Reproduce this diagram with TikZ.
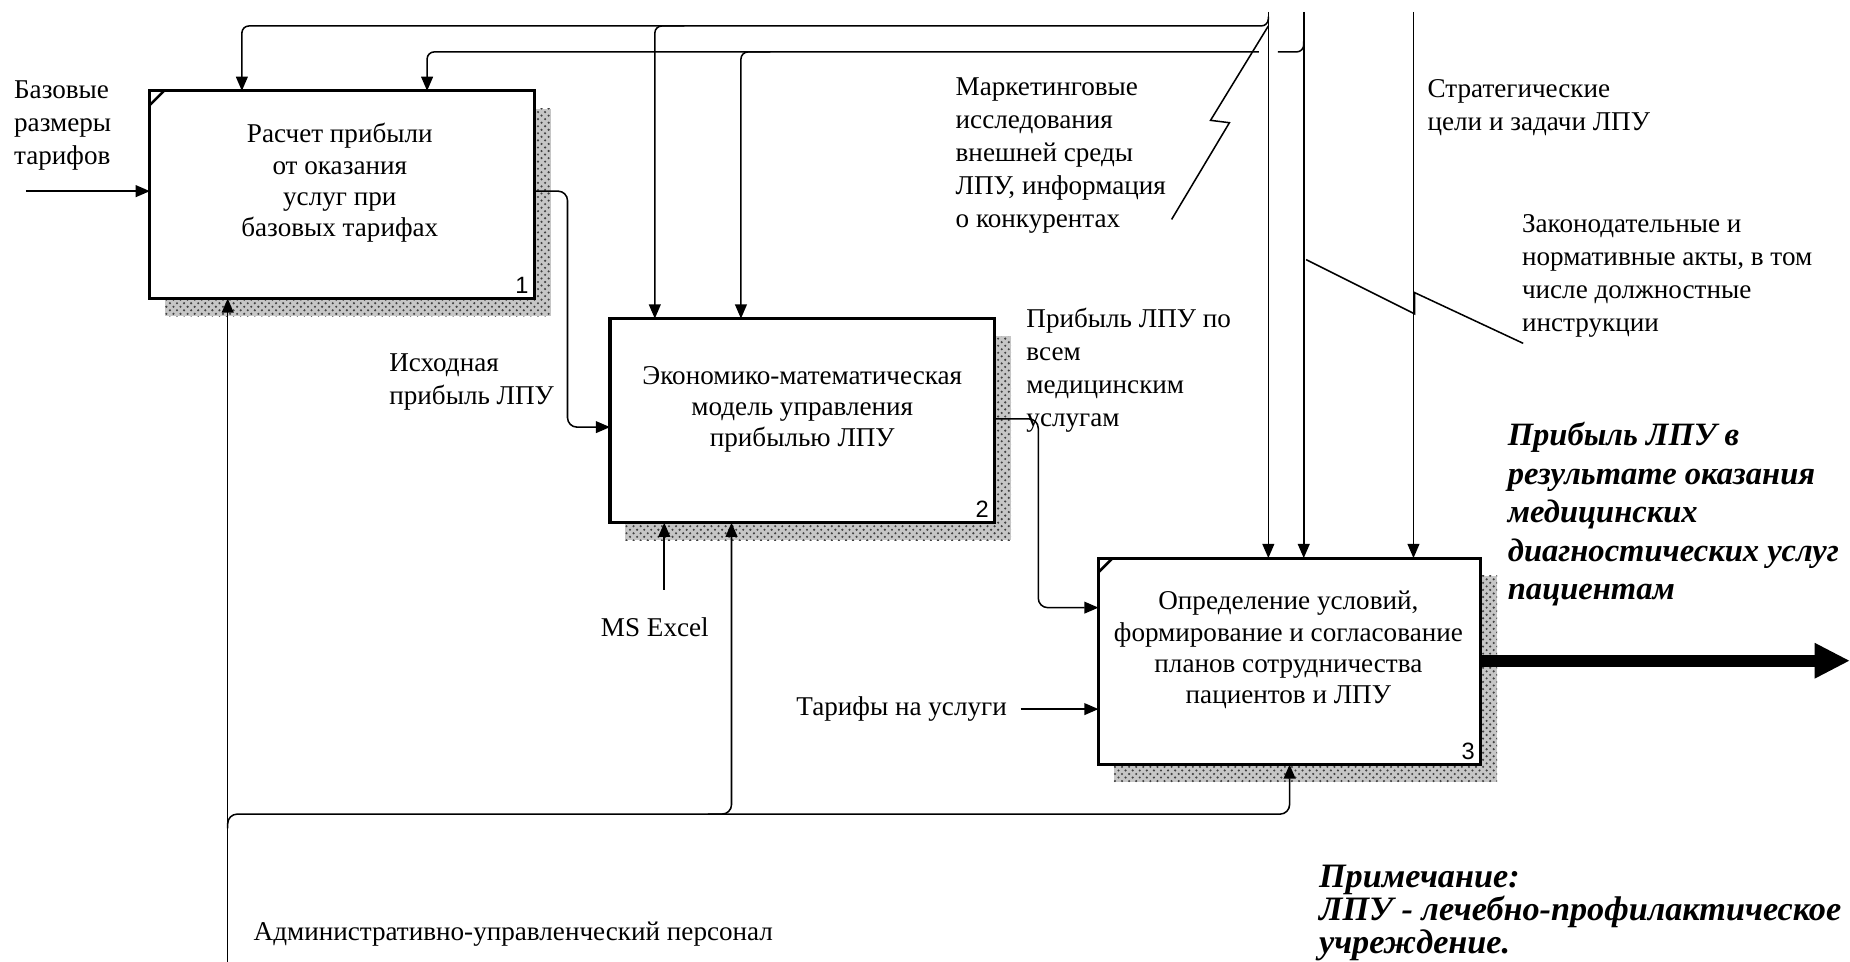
\documentclass[tikz,border=0pt]{standalone}
\usepackage{fontspec}
\setmainfont{Liberation Serif}
\newfontfamily\numfont{Liberation Sans}
\usetikzlibrary{arrows.meta,patterns,calc}
\begin{document}
\begin{tikzpicture}[x=0.5pt,y=-0.5pt,
  every node/.style={inner sep=0pt, outer sep=0pt},
  boxst/.style={draw, line width=1.3pt, fill=white, anchor=north west},
  shadowst/.style={fill=gray!45, postaction={pattern=crosshatch dots, pattern color=black!75}},
  boxtxt/.style={align=center, font=\fontsize{11.5}{13.3}\selectfont},
  lbl/.style={align=left, font=\fontsize{11.5}{14}\selectfont},
  numst/.style={font=\numfont\fontsize{10}{12}\selectfont, anchor=south east},
  bigtxt/.style={align=left, font=\fontsize{13.8}{16.3}\selectfont\bfseries\itshape},
  notetxt/.style={align=left, font=\fontsize{14.5}{14}\selectfont\bfseries\itshape},
  line/.style={line width=0.65pt},
  arr/.style={line width=0.65pt, -{Triangle[length=6pt,width=5pt]}},
  tick/.style={line width=1.1pt}]
\useasboundingbox (0,0) rectangle (1568,815);

% shadows
\fill[shadowst] (140,92) rectangle (467,268);
\fill[shadowst] (530,285) rectangle (857,458);
\fill[shadowst] (944,488) rectangle (1269,663);

% boxes
\node[boxst, minimum width=163pt, minimum height=88pt] (b1) at (127,77) {};
\node[boxst, minimum width=163pt, minimum height=86.5pt] (b2) at (517,270) {};
\node[boxst, minimum width=162pt, minimum height=87.5pt] (b3) at (931,473) {};
\draw[tick] ($(b1.north west)+(0,12)$) -- ($(b1.north west)+(12,0)$);
\draw[tick] ($(b3.north west)+(0,12)$) -- ($(b3.north west)+(12,0)$);

% box texts
\node[boxtxt] (t1) at (288,155) {Расчет прибыли\\от оказания\\услуг при\\базовых тарифах};
\node[boxtxt] (t2) at (680,347) {Экономико-математическая\\модель управления\\прибылью ЛПУ};
\node[boxtxt] (t3) at (1092,551) {Определение условий,\\формирование и согласование\\планов сотрудничества\\пациентов и ЛПУ};
\node[numst] (n1) at ($(b1.south east)+(-5,-4)$) {1};
\node[numst] (n2) at ($(b2.south east)+(-5,-4)$) {2};
\node[numst] (n3) at ($(b3.south east)+(-5,-4)$) {3};

% labels
\node[lbl, anchor=west] (lbase) at (12,106) {Базовые\\размеры\\тарифов};
\node[lbl, anchor=west] (lisx) at (330,324) {Исходная\\прибыль ЛПУ};
\node[lbl, anchor=west] (lmark) at (810,132) {Маркетинговые\\исследования\\внешней среды\\ЛПУ, информация\\о конкурентах};
\node[lbl, anchor=west] (lstrat) at (1210,91) {Стратегические\\цели и задачи ЛПУ};
\node[lbl, anchor=west] (lzak) at (1290,234) {Законодательные и\\нормативные акты, в том\\числе должностные\\инструкции};
\node[lbl, anchor=west] (lprib) at (870,314) {Прибыль ЛПУ по\\всем\\медицинским\\услугам};
\node[lbl] (lexcel) at (555,532) {MS Excel};
\node[lbl, anchor=west] (ltar) at (675,601) {Тарифы на услуги};
\node[lbl, anchor=west] (ladm) at (215,792) {Административно-управленческий персонал};
\node[bigtxt, anchor=west] (lout) at (1278,436) {Прибыль ЛПУ в\\результате оказания\\медицинских\\диагностических услуг\\пациентам};
\node[notetxt, anchor=west] (lnote) at (1118,774) {Примечание:\\ЛПУ - лечебно-профилактическое\\учреждение.};

% control coordinates
\coordinate (A0) at (1075,10);
\coordinate (B0) at (1105,10);
\coordinate (C0) at (1198,10);
\coordinate (Ay) at (1075,22);
\coordinate (By) at (1105,44);
\coordinate (A1) at (205,22);
\coordinate (A2) at (555,22);
\coordinate (B1) at (362,44);
\coordinate (B2) at (628,44);

\draw[arr] (A0) -- (A0 |- b3.north);
\draw[arr] (B0) -- (B0 |- b3.north);
\draw[arr] (C0) -- (C0 |- b3.north);
\draw[arr, rounded corners=3pt] ($(Ay)+(0,-8)$) -- (Ay) -- (A1) -- (A1 |- b1.north);
\draw[arr, rounded corners=3pt] ($(A2)+(25,0)$) -- (A2) -- (A2 |- b2.north);
\draw[line, rounded corners=3pt] ($(By)+(0,-9)$) -- (By) -- ($(Ay |- By)+(8,0)$);
\draw[arr, rounded corners=3pt] ($(Ay |- By)+(-8,0)$) -- (B1) -- (B1 |- b1.north);
\draw[arr, rounded corners=3pt] ($(B2)+(25,0)$) -- (B2) -- (B2 |- b2.north);

% leaders
\coordinate (mk0) at (993,186);
\draw[line] (mk0) -- (1042,104) -- (1026,102) -- (Ay);
\coordinate (zk0) at (1291,291);
\coordinate (zk1) at (1107,220);
\draw[line] (zk1) -- (1199,266) -- (1199,248) -- (zk0);

% box 1 input
\coordinate (in1) at (22,162);
\draw[arr] (in1) -- (b1.west |- in1);

% box1 -> box2
\coordinate (o1) at (481,162);
\coordinate (i2) at (517,362);
\draw[arr, rounded corners=4pt] (b1.east |- o1) -- (o1) -- (o1 |- i2) -- (b2.west |- i2);

% box2 -> box3
\coordinate (o2) at (880,355);
\coordinate (i3) at (931,515);
\draw[arr, rounded corners=4pt] (b2.east |- o2) -- (o2) -- (o2 |- i3) -- (b3.west |- i3);

% tariffs
\coordinate (tarS) at (865,601);
\draw[arr] (tarS) -- (b3.west |- tarS);

% MS Excel
\coordinate (exS) at (563,500);
\draw[arr] (exS) -- (exS |- b2.south);

% mechanism
\coordinate (mB) at (193,815);
\coordinate (mJ) at (193,690);
\coordinate (m3) at (1093,690);
\coordinate (m2) at (620,690);
\draw[arr] (mB) -- (mB |- b1.south);
\draw[arr, rounded corners=4pt] ($(mJ)+(0,12)$) -- (mJ) -- (m3) -- (m3 |- b3.south);
\draw[arr, rounded corners=4pt] ($(m2)+(-20,0)$) -- (m2) -- (m2 |- b2.south);

% output
\coordinate (outE) at (1568,560);
\draw[line width=5pt, -{Triangle[length=15pt,width=14pt]}] (b3.east |- outE) -- (outE);
\end{tikzpicture}
\end{document}
